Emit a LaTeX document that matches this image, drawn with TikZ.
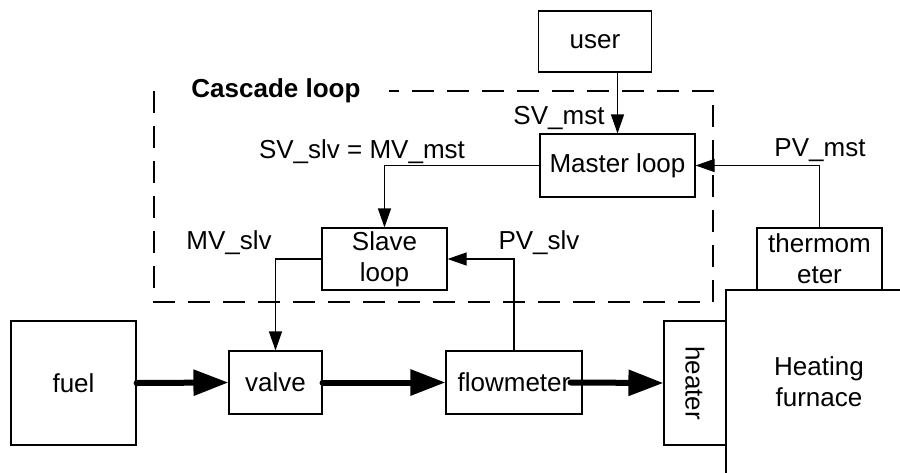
\documentclass[tikz,border=0pt]{standalone}
\usepackage{fontspec}
\setmainfont{Liberation Sans}
\usetikzlibrary{arrows.meta, positioning}

\begin{document}
\begin{tikzpicture}[x=1pt, y=-1pt, line width=1.1pt,
    every node/.style={font=\fontsize{26}{31}\selectfont},
    box/.style={draw, line width=1.1pt, inner sep=0pt, align=center},
    sig/.style={-{Triangle[length=19pt, width=13pt]}, line width=1.1pt},
    pipe/.style={-{Triangle[length=35pt, width=25pt]}, line width=6pt, line cap=round}]
    \clip (0,0) rectangle (900,472);

    % cascade loop frame
    \draw[dash pattern=on 22pt off 13pt] (154,91) rectangle (713,302);
    \node[fill=white, font=\bfseries\fontsize{26}{31}\selectfont, minimum width=226pt, inner ysep=2pt] (title) at (276,91) {Cascade loop};

    \node[box, minimum width=113pt, minimum height=61pt] (user) at (595,41.5) {user};
    \node[box, minimum width=155pt, minimum height=63pt] (master) at (617.5,165.5) {Master loop};
    \node[box, minimum width=125pt, minimum height=62pt] (slave) at (384.5,259) {Slave\\loop};
    \node[box, minimum width=125pt, minimum height=62pt] (thermo) at (819.5,259) {thermom\\eter};

    \node[box, minimum width=125pt, minimum height=124pt] (fuel) at (73.5,383) {fuel};
    \node[box, minimum width=93pt, minimum height=63pt] (valve) at (275.5,382.5) {valve};
    \node[box, minimum width=136pt, minimum height=63pt] (flow) at (514,382.5) {flowmeter};
    \node[box, rotate=-90, minimum width=124pt, minimum height=62pt] (heater) at (695,383) {heater};
    \draw (726,290) rectangle (940,520);
    \node[align=center] (furnace) at (819,382) {Heating\\furnace};

    \node (svmst) at (559,118) {SV\_mst};
    \node (svslv) at (362,152) {SV\_slv = MV\_mst};
    \node (mvslv) at (229,243) {MV\_slv};
    \node (pvslv) at (539,243) {PV\_slv};
    \node (pvmst) at (820,150) {PV\_mst};

    \draw[sig] (master.north |- user.south) -- (master.north);
    \draw[sig] (master.west) -| (slave.north);
    \draw[sig] (slave.west) -| (valve.north);
    \draw[sig] (flow.north) |- (slave.east);
    \draw[sig] (thermo.north) |- (master.east);

    \draw[pipe] (fuel.east) -- (valve.west);
    \draw[pipe] (valve.east) -- (flow.west);
    \draw[pipe] ([xshift=-12pt]flow.east) -- (heater.south);
\end{tikzpicture}
\end{document}
